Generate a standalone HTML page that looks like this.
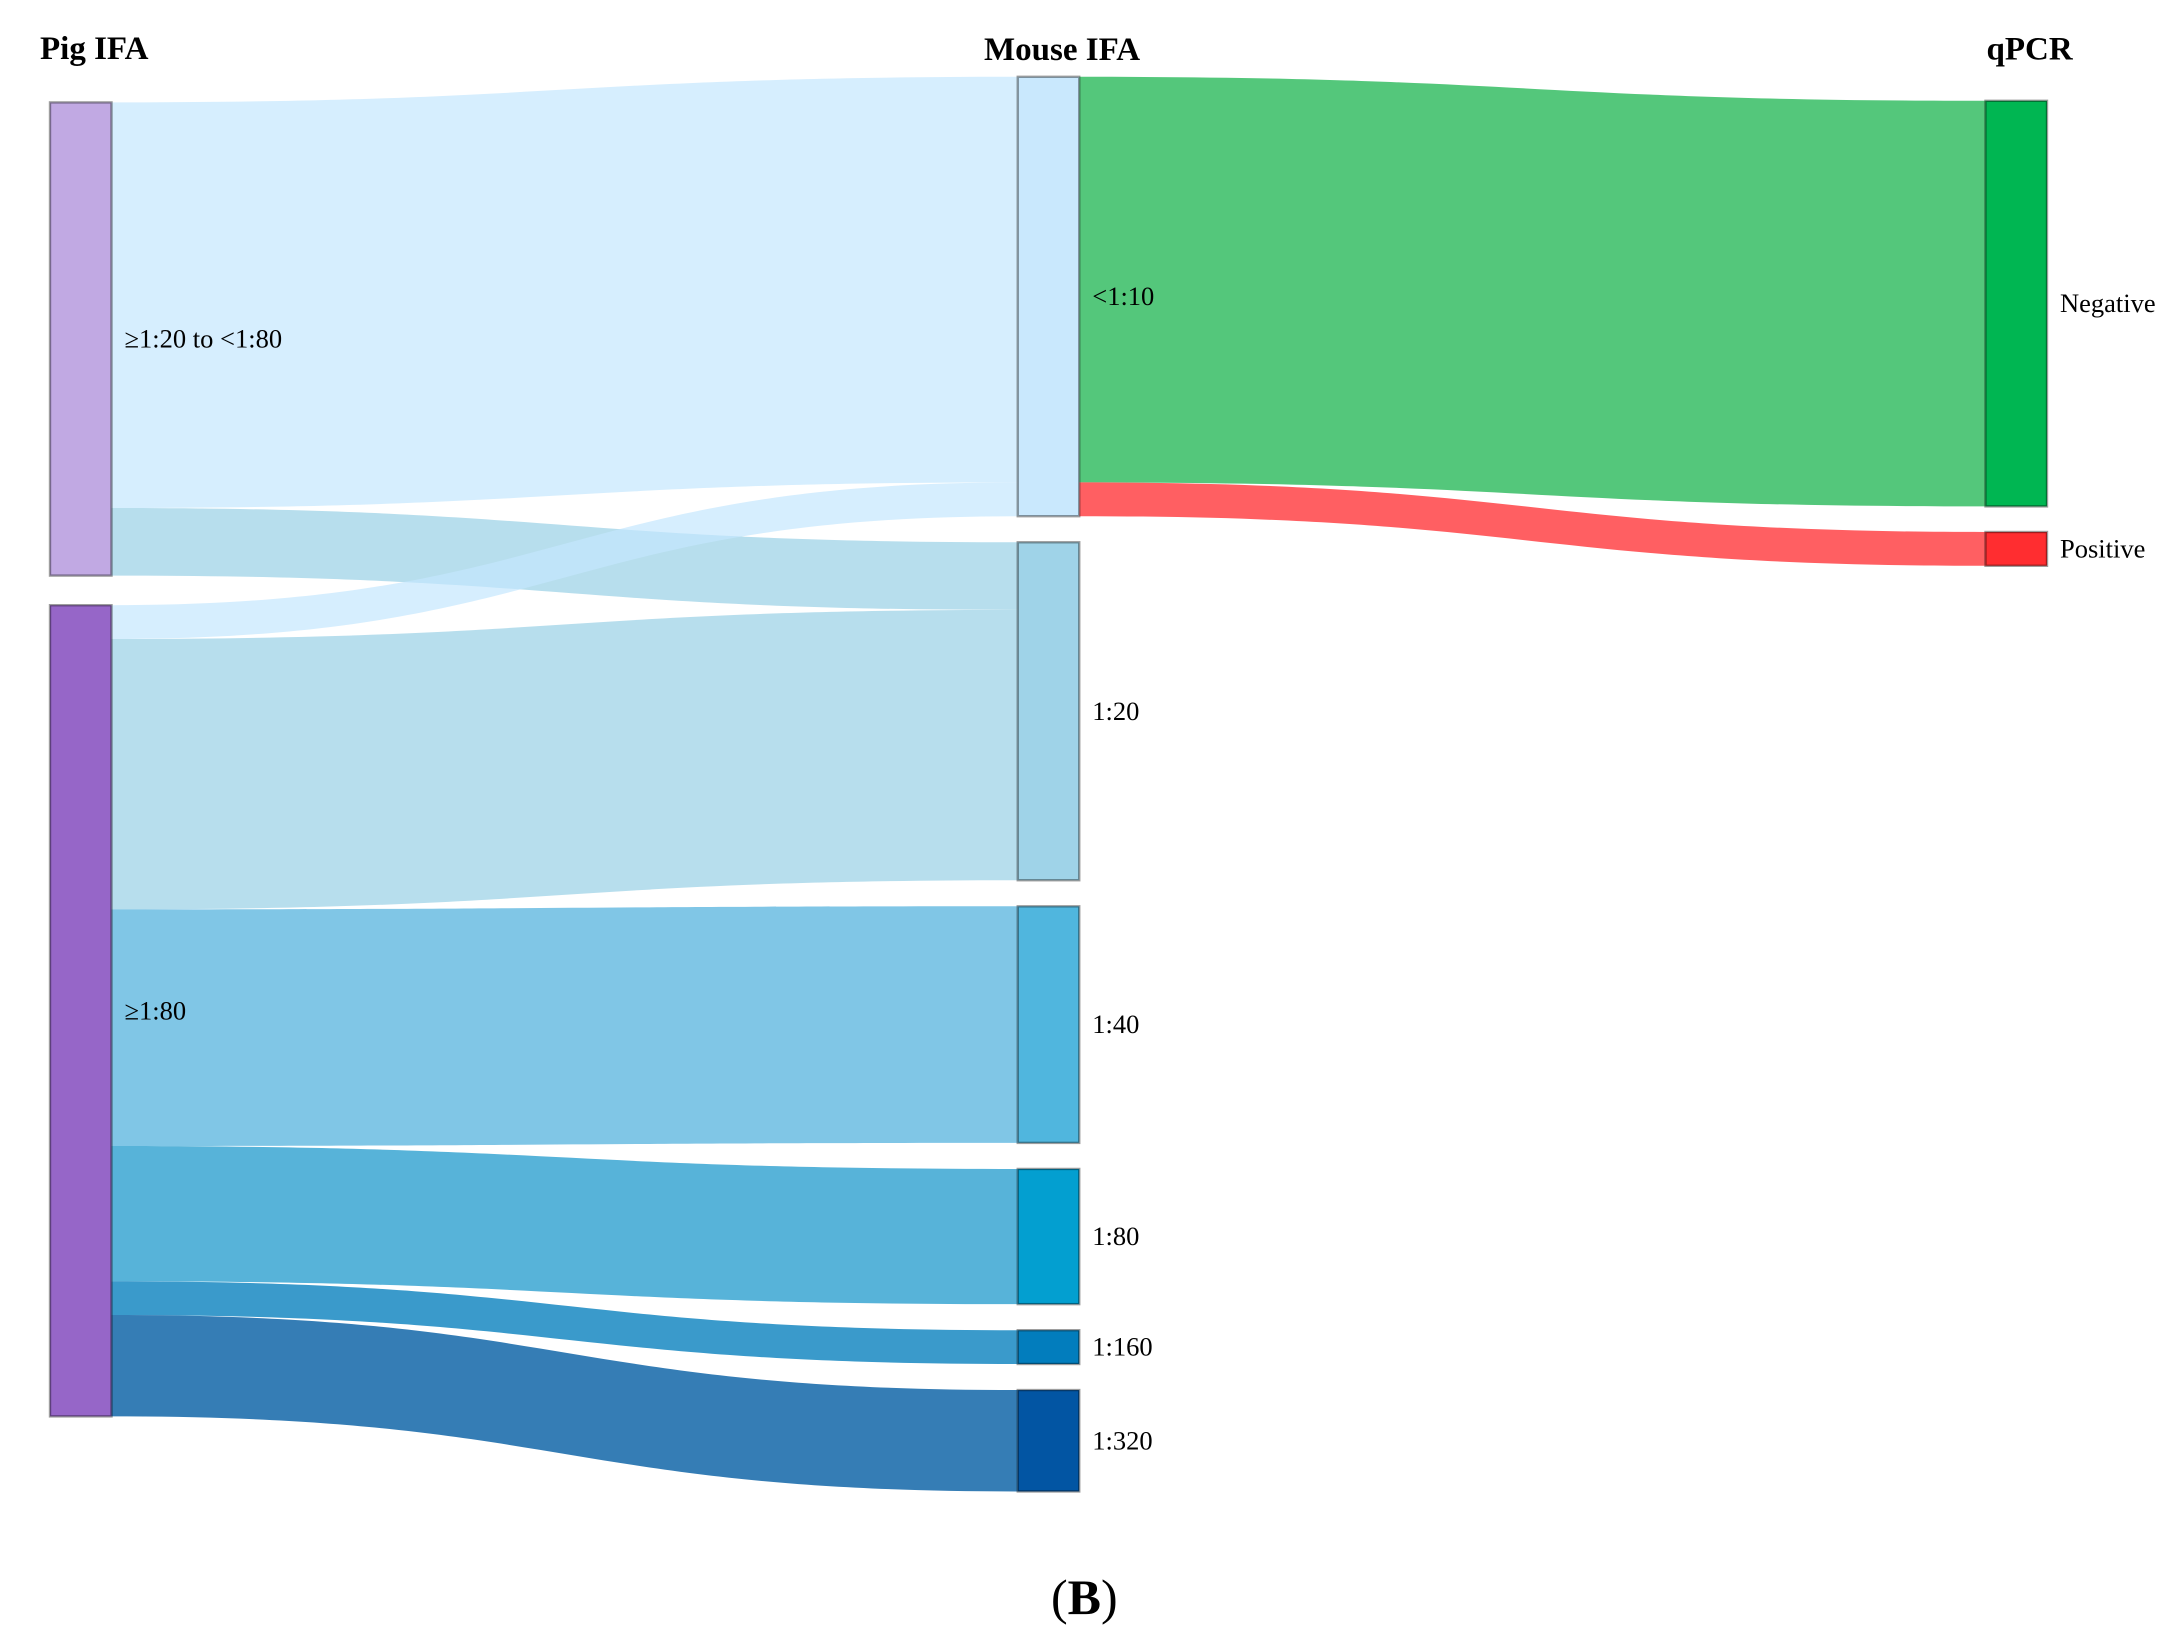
<!DOCTYPE html>
<html lang="en">
<head>
<meta charset="utf-8">
<title>Sankey: Pig IFA, Mouse IFA, qPCR</title>
<style>
html,body{margin:0;padding:0;background:#fff;}
svg{display:block;}
text{font-family:"Liberation Serif","DejaVu Serif",serif;fill:#000;}
.title{font-weight:bold;font-size:33px;}
.label{font-size:26.5px;}
</style>
</head>
<body>
<svg id="chart" xmlns="http://www.w3.org/2000/svg" width="2179" height="1648" viewBox="0 0 2179 1648">
  <g id="links"></g>
  <g id="nodes"></g>
  <g id="labels"></g>
  <text class="title" x="40" y="59">Pig IFA</text>
  <text class="title" x="984" y="60">Mouse IFA</text>
  <text class="title" x="1986.5" y="59.5">qPCR</text>
  <text x="1051" y="1614" font-size="50">(<tspan font-weight="bold">B</tspan>)</text>
</svg>
<script>
// Data: node names per column, and sample counts per link
const pigNodes = ["≥1:20 to <1:80", "≥1:80"];
const mouseNodes = ["<1:10", "1:20", "1:40", "1:80", "1:160", "1:320"];
const qpcrNodes = ["Negative", "Positive"];
const linkSources = ["≥1:20 to <1:80", "≥1:20 to <1:80", "≥1:80", "≥1:80", "≥1:80", "≥1:80", "≥1:80", "≥1:80", "<1:10", "<1:10"];
const linkTargets = ["<1:10", "1:20", "<1:10", "1:20", "1:40", "1:80", "1:160", "1:320", "Negative", "Positive"];
const linkValues = [12, 2, 1, 8, 7, 4, 1, 3, 12, 1];
const nodeColors = ["#c1a9e3", "#9666c8", "#c9e8fd", "#9fd3e8", "#50b6de", "#039fd0", "#027dbd", "#0255a3", "#00b652", "#ff2d30"];
const linkColors = ["rgba(196,230,253,.69)", "rgba(152,208,229,.7)", "rgba(196,230,253,.69)", "rgba(152,208,229,.7)", "rgba(74,174,219,.7)", "rgba(15,147,201,.7)", "rgba(2,125,189,.78)", "rgba(2,92,163,.8)", "rgba(0,172,58,.67)", "rgba(255,45,48,.76)"];

// Axis functions
const UNIT = 33.8;
const NODE_W = 61.5;
function columnX(col) { return 50 + col * 967.75; }
function columnTop(col) { return col === 0 ? 102.4 : col === 1 ? 76.8 : 100.8; }
function columnPad(col) { return col === 0 ? 29.6 : col === 1 ? 26.05 : 25.6; }
function heightOf(value) { return value * UNIT; }

const SVG_NS = "http://www.w3.org/2000/svg";
const columns = [pigNodes, mouseNodes, qpcrNodes];
const nodes = {};
let colorIndex = 0;

columns.forEach(function (names, col) {
  let y = columnTop(col);
  names.forEach(function (name) {
    let inSum = 0, outSum = 0;
    linkValues.forEach(function (v, i) {
      if (linkTargets[i] === name) inSum += v;
      if (linkSources[i] === name) outSum += v;
    });
    const value = Math.max(inSum, outSum);
    nodes[name] = { col: col, x: columnX(col), y: y, h: heightOf(value), out: y, inn: y, color: nodeColors[colorIndex] };
    colorIndex += 1;
    y += heightOf(value) + columnPad(col);
  });
});

const linksG = document.getElementById("links");
linkValues.forEach(function (v, i) {
  const s = nodes[linkSources[i]], t = nodes[linkTargets[i]];
  const w = heightOf(v);
  const x0 = s.x + NODE_W, x1 = t.x, xm = (x0 + x1) / 2;
  const y0 = s.out, y1 = t.inn;
  s.out += w;
  t.inn += w;
  const path = document.createElementNS(SVG_NS, "path");
  path.setAttribute("d",
    "M" + x0 + " " + y0 +
    "C" + xm + " " + y0 + " " + xm + " " + y1 + " " + x1 + " " + y1 +
    "L" + x1 + " " + (y1 + w) +
    "C" + xm + " " + (y1 + w) + " " + xm + " " + (y0 + w) + " " + x0 + " " + (y0 + w) + "Z");
  path.setAttribute("fill", linkColors[i]);
  
  
  linksG.appendChild(path);
});

const nodesG = document.getElementById("nodes");
const labelsG = document.getElementById("labels");
Object.keys(nodes).forEach(function (name) {
  const n = nodes[name];
  const rect = document.createElementNS(SVG_NS, "rect");
  rect.setAttribute("x", n.x);
  rect.setAttribute("y", n.y);
  rect.setAttribute("width", NODE_W);
  rect.setAttribute("height", n.h);
  rect.setAttribute("fill", n.color);
  rect.setAttribute("stroke", "rgba(0,0,0,.38)");
  rect.setAttribute("stroke-width", "2.4");
  
  
  nodesG.appendChild(rect);

  const label = document.createElementNS(SVG_NS, "text");
  label.setAttribute("class", "label");
  label.setAttribute("x", n.x + NODE_W + 13);
  label.setAttribute("y", n.y + n.h / 2 + 8.6);
  
  
  label.textContent = name;
  labelsG.appendChild(label);
});
</script>
</body>
</html>
